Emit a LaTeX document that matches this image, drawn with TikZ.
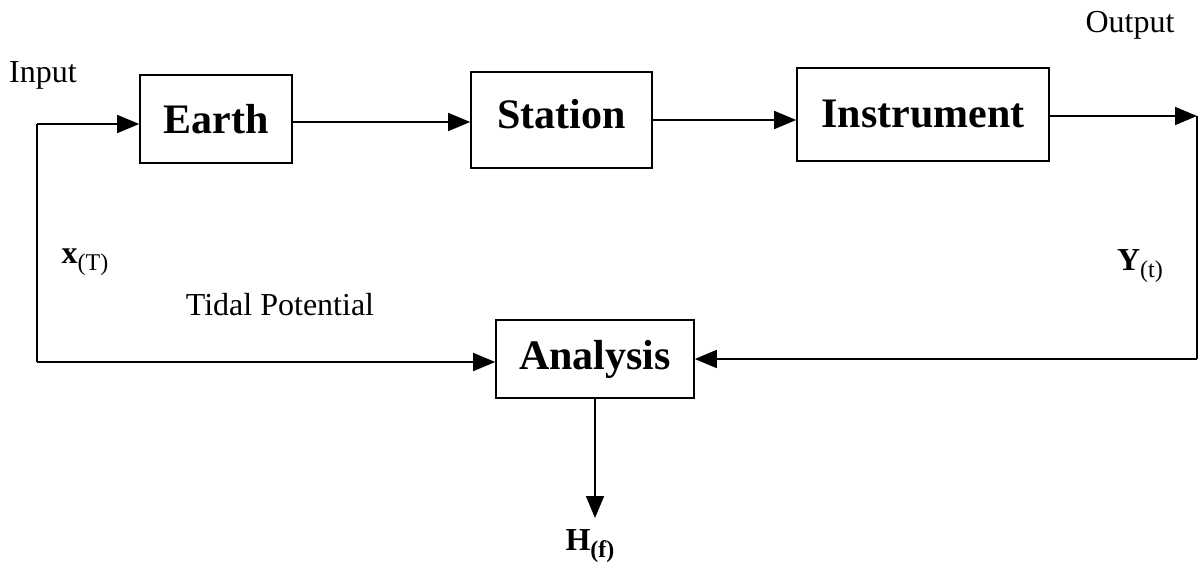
\documentclass[tikz,border=0pt]{standalone}
\usepackage{fontspec}
\setmainfont{Liberation Serif}
\usetikzlibrary{positioning,arrows.meta}

\begin{document}
\begin{tikzpicture}[
  x=1pt, y=-1pt,
  box/.style={draw, line width=1.6pt, inner sep=0pt, font=\fontsize{42}{46}\selectfont\bfseries},
  lbl/.style={inner sep=0pt, font=\fontsize{32}{36}\selectfont},
  arr/.style={-{Triangle[length=22pt,width=18pt]}, line width=1.6pt},
  ln/.style={line width=1.6pt}
]
\useasboundingbox (0,0) rectangle (1198,569);

% blocks
\node[box, minimum width=152pt, minimum height=88pt] (earth) at (216,119) {Earth};
\node[box, minimum width=181pt, minimum height=96pt] (station) at (561.5,120) {\raisebox{12pt}{Station}};
\node[box, minimum width=252pt, minimum height=93pt] (instr) at (923,114.5) {Instrument};
\node[box, minimum width=198pt, minimum height=78pt] (ana) at (595,359) {Analysis};

% loop corners
\coordinate (inA) at (37,124);
\coordinate (inB) at (37,362);
\coordinate (outA) at (1197,116);
\coordinate (outB) at (1197,359);
\coordinate (hf) at (595,518);

% labels
\newcommand{\sublbl}[1]{\raisebox{-7pt}{\fontsize{24}{26}\selectfont #1}}
\node[lbl] (input) at (43,75) {Input};
\node[lbl] (output) at (1130,25) {Output};
\node[lbl] (xt) at (85,262) {\textbf{x}\sublbl{(T)}};
\node[lbl] (tidal) at (280,305) {Tidal Potential};
\node[lbl] (yt) at (1140,266) {\textbf{Y}\sublbl{(t)}};
\node[lbl] (hlab) at (590,546) {\textbf{H}\sublbl{\textbf{(f)}}};

\draw[arr] (inA) -- (inA -| earth.west);
\draw[arr] (earth.east |- 0,122) -- (station.west |- 0,122);
\draw[arr] (station.east |- 0,120) -- (instr.west |- 0,120);
\draw[arr] (instr.east |- outA) -- (outA);
\draw[ln] (inA) -- (inB);
\draw[arr] (inB) -- (inB -| ana.west);
\draw[ln] (outA) -- (outB);
\draw[arr] (outB) -- (outB -| ana.east);
\draw[arr] (ana.south) -- (hf);
\end{tikzpicture}
\end{document}
